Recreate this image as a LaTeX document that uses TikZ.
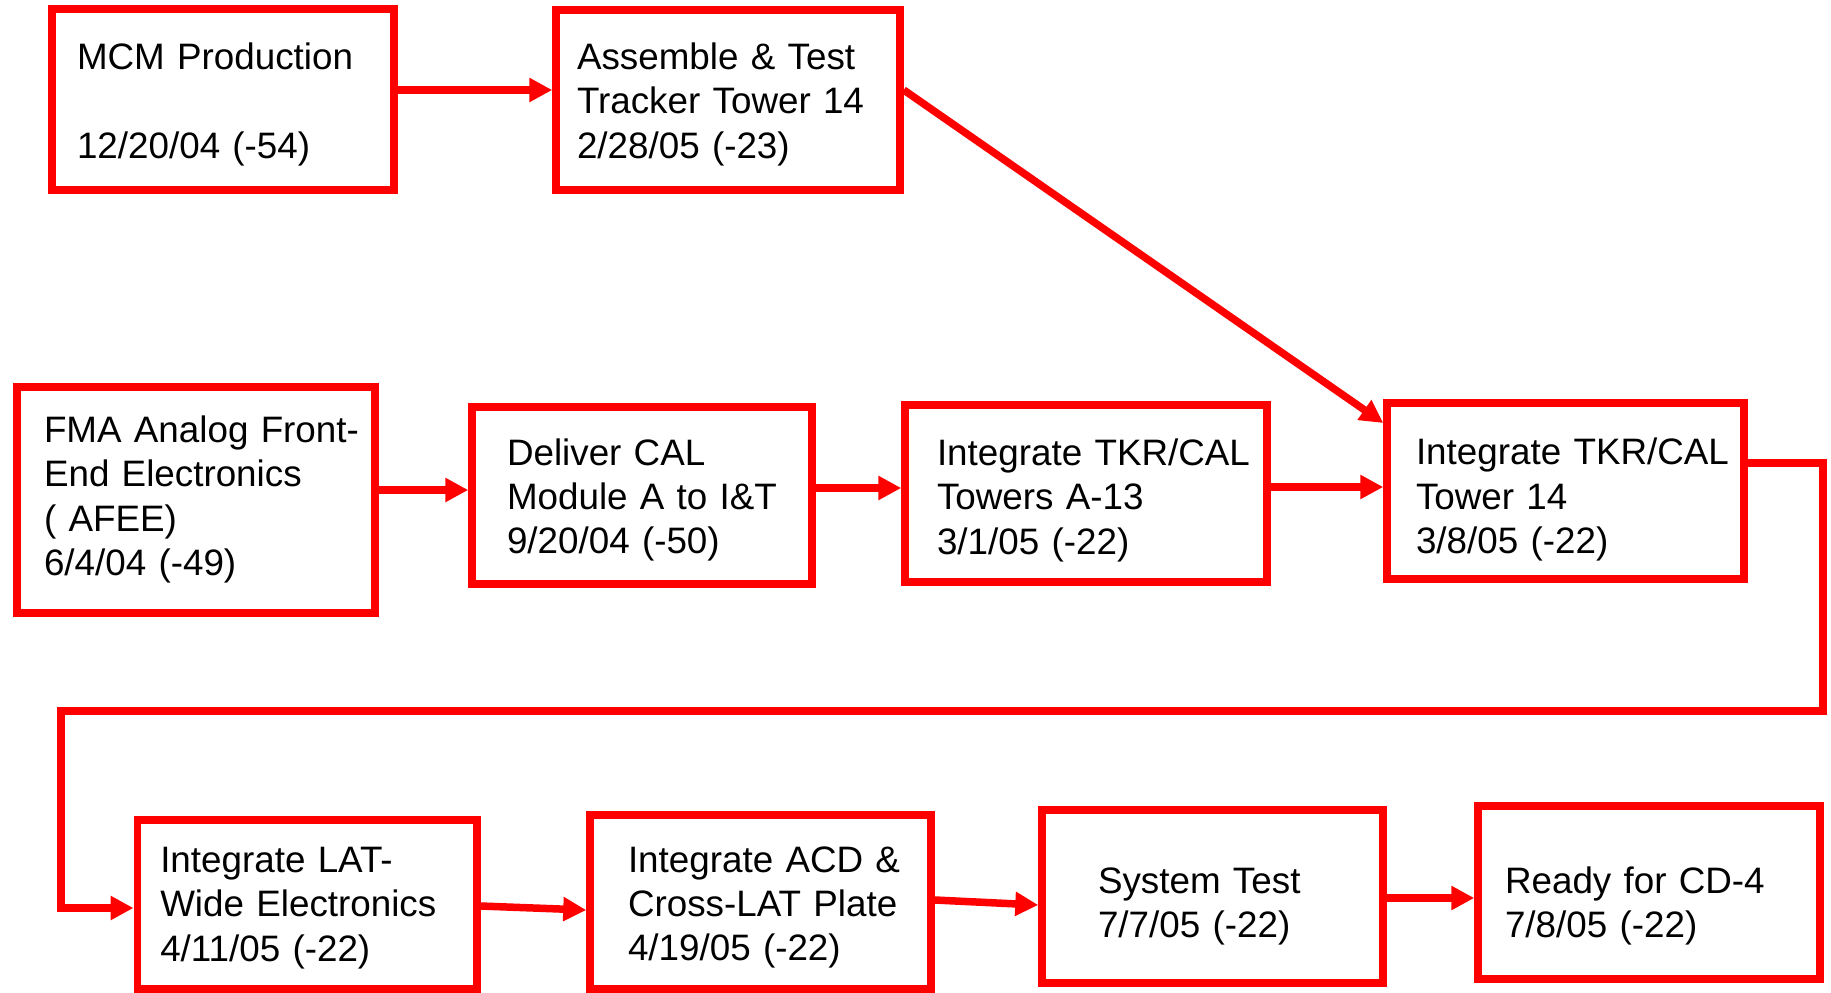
\documentclass[tikz,border=0pt]{standalone}
\usepackage{fontspec}
\setmainfont{Liberation Sans}
\usetikzlibrary{arrows.meta}

\begin{document}
\begin{tikzpicture}[x=1pt, y=-1pt, >={Triangle[length=23pt,width=23pt]},
    task/.style={draw=red, line width=7.5pt, inner sep=0pt, align=left,
      font=\fontsize{36.8}{44.4}\selectfont},
    pad/.style={execute at begin node={\leftskip=#1}},
    flow/.style={->, draw=red, line width=7.5pt}]
  \useasboundingbox (0,0) rectangle (1831,993);

  % top row
  \node [task, pad=25pt, text width=342pt, minimum height=181pt, text height=36pt] (mcm) at (223,99.5)
    {MCM Production\\ \mbox{}\\ 12/20/04 (-54)};
  \node [task, pad=21pt, text width=344pt, minimum height=180pt, text height=35pt] (asm) at (728,100)
    {Assemble \& Test\\ Tracker Tower 14\\ 2/28/05 (-23)};

  % middle row
  \node [task, pad=27pt, text width=358pt, minimum height=226pt, text height=26pt] (fma) at (196,500)
    {FMA Analog Front-\\ End Electronics\\ ( AFEE)\\ 6/4/04 (-49)};
  \node [task, pad=35pt, text width=340pt, minimum height=177pt, text height=35.5pt] (cal) at (642,495.5)
    {Deliver CAL\\ Module A to I\&T\\ 9/20/04 (-50)};
  \node [task, pad=32pt, text width=362pt, minimum height=177pt, text height=40pt] (tkr) at (1086,493.5)
    {Integrate TKR/CAL\\ Towers A-13\\ 3/1/05 (-22)};
  \node [task, pad=29pt, text width=357pt, minimum height=176pt, text height=44pt] (t14) at (1565.5,491)
    {Integrate TKR/CAL\\ Tower 14\\ 3/8/05 (-22)};

  % bottom row
  \node [task, pad=23pt, text width=339.5pt, minimum height=169pt, text height=32pt] (lat) at (307,904.5)
    {Integrate LAT-\\ Wide Electronics\\ 4/11/05 (-22)};
  \node [task, pad=38pt, text width=341pt, minimum height=174pt, text height=36.5pt] (acd) at (760.5,902)
    {Integrate ACD \&\\ Cross-LAT Plate\\ 4/19/05 (-22)};
  \node [task, pad=56pt, text width=341pt, minimum height=173pt, text height=46pt] (sys) at (1212.5,896.5)
    {System Test\\ 7/7/05 (-22)};
  \node [task, pad=27pt, text width=342pt, minimum height=173pt, text height=54pt] (cd4) at (1649,892.5)
    {Ready for CD-4\\ 7/8/05 (-22)};

  \coordinate (turn) at (1823,711);
  \coordinate (back) at (61,711);

  \draw [flow] ([yshift=9.5pt]mcm.east) -- ([yshift=10pt]asm.west);
  \draw [flow] ([yshift=10pt]asm.east) -- ([yshift=68pt]t14.west);
  \draw [flow] ([yshift=10pt]fma.east) -- ([yshift=5.5pt]cal.west);
  \draw [flow] ([yshift=7.5pt]cal.east) -- ([yshift=5.5pt]tkr.west);
  \draw [flow] ([yshift=6.5pt]tkr.east) -- ([yshift=4pt]t14.west);
  \draw [flow] ([yshift=28pt]t14.east) -| (turn) -- (back) |- ([yshift=-3.5pt]lat.west);
  \draw [flow] ([yshift=-1.5pt]lat.east) -- ([yshift=-8pt]acd.west);
  \draw [flow] ([yshift=2pt]acd.east) -- ([yshift=-8.5pt]sys.west);
  \draw [flow] ([yshift=-1.5pt]sys.east) -- ([yshift=-5.5pt]cd4.west);
\end{tikzpicture}
\end{document}
